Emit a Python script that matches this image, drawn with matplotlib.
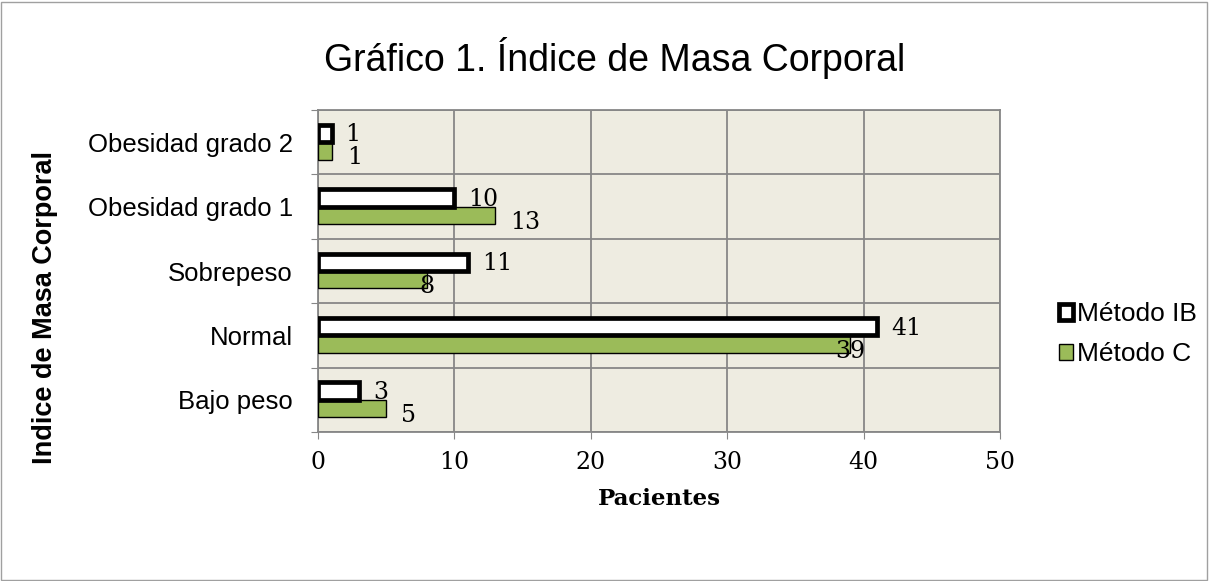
import matplotlib
matplotlib.use('Agg')
import matplotlib.pyplot as plt
import numpy as np
from matplotlib.patches import Rectangle

# Data
categorias = ['Bajo peso', 'Normal', 'Sobrepeso', 'Obesidad grado 1', 'Obesidad grado 2']
metodo_c = [5, 39, 8, 13, 1]
metodo_ib = [3, 41, 11, 10, 1]
x_ticks = [0, 10, 20, 30, 40, 50]

verde = '#9BBB59'
fondo = '#EEECE1'
gris = '#878787'
sans = ['Liberation Sans', 'DejaVu Sans']
serif = ['DejaVu Serif']

fig = plt.figure(figsize=(12.09, 5.81), dpi=100)
ax = fig.add_axes([318/1209, 1-432/581, (1000-318)/1209, (432-110)/581])
ax.set_facecolor(fondo)

y = np.arange(len(categorias))
h = 0.27
ax.barh(y - h/2, metodo_c, height=h, color=verde, edgecolor='black', linewidth=1.0,
        label='Método C', zorder=3)
ax.barh(y + h/2, metodo_ib, height=h, color='white', edgecolor='black', linewidth=3.4,
        label='Método IB', zorder=3)

# value labels (serif, outside end)
for i in range(len(categorias)):
    ax.annotate(str(metodo_ib[i]), (metodo_ib[i], y[i] + h/2), xytext=(10, -1),
                textcoords='offset points', va='center', ha='left',
                fontsize=17, family=serif, zorder=4)
    if metodo_c[i] < metodo_ib[i]:
        ax.annotate(str(metodo_c[i]), (metodo_c[i], y[i] - h/2), xytext=(0, -5),
                    textcoords='offset points', va='center', ha='center',
                    fontsize=17, family=serif, zorder=4)
    else:
        ax.annotate(str(metodo_c[i]), (metodo_c[i], y[i] - h/2), xytext=(11, -5),
                    textcoords='offset points', va='center', ha='left',
                    fontsize=17, family=serif, zorder=4)

ax.set_xlim(0, 50)
ax.set_ylim(-0.5, len(categorias) - 0.5)
ax.set_xticks(x_ticks)
ax.set_xticklabels([str(v) for v in x_ticks], fontsize=17, family=serif)
ax.set_yticks(np.arange(len(categorias) + 1) - 0.5)
ax.set_yticklabels([])
ax.set_yticks(y, minor=True)
ax.set_yticklabels(categorias, minor=True, fontsize=18.5, family=sans)
ax.tick_params(axis='y', which='minor', length=0, pad=18)
ax.tick_params(axis='y', which='major', length=5, color=gris, direction='out')
ax.tick_params(axis='x', length=5, color=gris, direction='out', pad=9)
ax.grid(True, which='major', color=gris, linewidth=1.3, zorder=0)
ax.set_axisbelow(True)
for s in ax.spines.values():
    s.set_color(gris)
    s.set_linewidth(1.3)

ax.set_xlabel('Pacientes', fontsize=16.5, family=serif, fontweight='bold', labelpad=10)

fig.text(45/1209, 1-307/581, 'Indice de Masa Corporal', rotation=90, ha='center',
         va='center', fontsize=19.5, fontweight='bold', family=sans)
fig.text(0.508, 1-58/581, 'Gráfico 1. Índice de Masa Corporal', ha='center',
         va='center', fontsize=27, family=sans)

handles, labels = ax.get_legend_handles_labels()
fig.legend(handles[::-1], labels[::-1], loc='center left',
           bbox_to_anchor=(1048/1209, 1-334/581), frameon=False,
           prop={'family': sans, 'size': 19}, handlelength=0.55, handleheight=0.55,
           handletextpad=0.15, labelspacing=0.6, borderaxespad=0)

fig.patches.append(Rectangle((0.001, 0.002), 0.997, 0.995, transform=fig.transFigure,
                             fill=False, edgecolor='#A0A0A0', linewidth=1.0))

fig.savefig('out.png', dpi=100)
